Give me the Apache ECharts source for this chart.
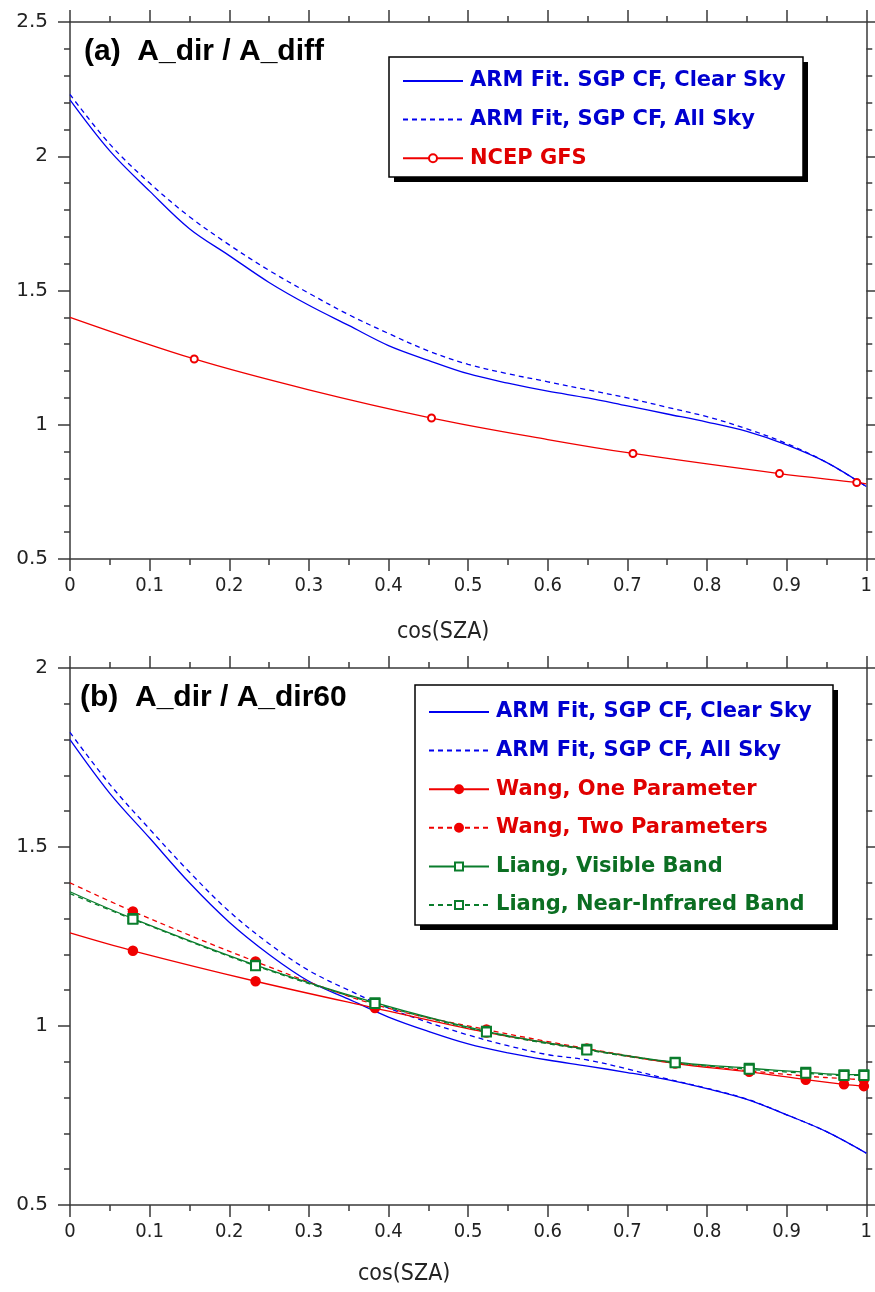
<!DOCTYPE html>
<html><head><meta charset="utf-8">
<script src="https://cdn.jsdelivr.net/npm/echarts@6/dist/echarts.min.js"></script>
<style>html,body{margin:0;padding:0;background:#fff}#c{width:875px;height:1292px}</style>
</head><body><div id="c"></div>
<script>
// ---------- data ----------
const armX = [0,0.05,0.1,0.15,0.2,0.25,0.3,0.35,0.4,0.45,0.5,0.55,0.6,0.65,0.7,0.75,0.8,0.85,0.9,0.95,1];
// panel (a)  A_dir / A_diff
const armClearA = [2.21,2.02,1.87,1.73,1.63,1.53,1.445,1.37,1.295,1.24,1.19,1.155,1.125,1.10,1.07,1.04,1.01,0.975,0.925,0.86,0.77];
const armAllA   = [2.23,2.045,1.90,1.775,1.67,1.575,1.49,1.41,1.34,1.275,1.225,1.19,1.16,1.13,1.10,1.065,1.03,0.985,0.93,0.86,0.77];
const ncepX = [0,0.156,0.3,0.454,0.6,0.707,0.891,0.988,1];
const ncepY = [1.40,1.245,1.13,1.025,0.945,0.893,0.818,0.785,0.78];
const ncepMarkerX = [0.156,0.454,0.707,0.891,0.988];
// panel (b)  A_dir / A_dir60
const armClearB = [1.80,1.65,1.525,1.40,1.29,1.20,1.125,1.075,1.025,0.985,0.95,0.925,0.905,0.888,0.87,0.85,0.825,0.795,0.752,0.705,0.645];
const armAllB   = [1.82,1.675,1.55,1.43,1.32,1.23,1.155,1.10,1.05,1.01,0.975,0.945,0.92,0.905,0.88,0.852,0.826,0.796,0.752,0.705,0.645];
const szaX = [0,0.079,0.233,0.383,0.523,0.649,0.760,0.853,0.924,0.972,0.997];
const szaMarkerX = [0.079,0.233,0.383,0.523,0.649,0.760,0.853,0.924,0.972,0.997];
const wangOne  = [1.26,1.21,1.125,1.05,0.982,0.935,0.895,0.872,0.850,0.837,0.832];
const wangTwo  = [1.40,1.32,1.18,1.06,0.99,0.937,0.897,0.875,0.860,0.853,0.850];
const liangVis = [1.375,1.30,1.17,1.065,0.985,0.935,0.899,0.882,0.871,0.864,0.864];
const liangNir = [1.37,1.298,1.168,1.063,0.983,0.933,0.897,0.879,0.868,0.862,0.862];
const xTickLabels = ['0','0.1','0.2','0.3','0.4','0.5','0.6','0.7','0.8','0.9','1'];

const namesA = ['ARM Fit. SGP CF, Clear Sky','ARM Fit, SGP CF, All Sky','NCEP GFS'];
const namesB = ['ARM Fit, SGP CF, Clear Sky','ARM Fit, SGP CF, All Sky','Wang, One Parameter','Wang, Two Parameters','Liang, Visible Band','Liang, Near-Infrared Band'];

// ---------- styling ----------
const BLUE='#0000f0', RED='#f00000', GREEN='#0a7d2c';
const BLUE_T='#0000d0', RED_T='#e00000', GREEN_T='#0b6e22';
const AX='#3a3a3a';
const narrow = "'Liberation Sans Narrow','DejaVu Sans Condensed','Liberation Sans',sans-serif";

function zip(xs, ys, marks){
  return xs.map((x,i)=>{
    const it = {value:[x, ys[i]]};
    if (marks && marks.indexOf(x) < 0) it.symbol = 'none';
    return it;
  });
}
function xAxisDef(grid, pos, labels, nameOffset, gap){
  const a = {
    type:'value', gridIndex:grid, position:pos, min:0, max:1, interval:0.1,
    axisLine:{show:true,onZero:false,lineStyle:{color:AX,width:1.5}},
    axisTick:{show:true,inside:false,length:12,lineStyle:{color:AX,width:1.5}},
    minorTick:{show:true,splitNumber:2,length:6,lineStyle:{color:AX,width:1.5}},
    splitLine:{show:false},
    axisLabel:{show:labels,margin:17,fontSize:20,fontFamily:narrow,color:'#222',
      formatter:(v)=>xTickLabels[Math.round(v*10)]}
  };
  if (labels){
    a.name='cos(SZA)'; a.nameLocation='middle'; a.nameGap=gap;
    a.nameTextStyle={fontSize:23,fontFamily:narrow,color:'#222',padding:[0,nameOffset,0,0]};
  }
  return a;
}
function yAxisDef(grid, pos, labels, max){
  return {
    type:'value', gridIndex:grid, position:pos, min:0.5, max:max, interval:0.5,
    axisLine:{show:true,onZero:false,lineStyle:{color:AX,width:1.5}},
    axisTick:{show:true,inside:false,length:12,lineStyle:{color:AX,width:1.5}},
    minorTick:{show:true,splitNumber:5,length:6,lineStyle:{color:AX,width:1.5}},
    splitLine:{show:false},
    axisLabel:{show:labels,margin:22,fontSize:20,fontFamily:"'DejaVu Sans',sans-serif",color:'#222'}
  };
}
function lineSeries(name, xi, yi, data, color, dashed, symbol, size){
  return {
    name, type:'line', xAxisIndex:xi, yAxisIndex:yi, data, smooth:0.35,
    symbol: symbol || 'none', symbolSize: size || 8, showSymbol: !!symbol,
    lineStyle:{color, width:1.3, type: dashed ? [5,4] : 'solid'},
    itemStyle:{color, borderColor:color, borderWidth:1.5},
    emphasis:{disabled:true}, animation:false, z: 3
  };
}
function legendDef(names, colors, noSym, left, top, pad){
  return {
    orient:'vertical', left, top, padding:pad, itemGap:14.6, itemWidth:60, itemHeight:10,
    selectedMode:false, backgroundColor:'transparent', borderWidth:0, z:6,
    textStyle:{fontFamily:"'DejaVu Sans',sans-serif",fontWeight:'bold',fontSize:21,lineHeight:24,padding:[0,0,0,2]},
    data: names.map((n,i)=>{
      const d = {name:n, textStyle:{color:colors[i]}};
      if (noSym[i]) d.itemStyle = {opacity:0};
      return d;
    })
  };
}
function boxGraphics(x, y, w, h){
  return [
    {type:'rect', z:4, shape:{x:x+5, y:y+5, width:w, height:h}, style:{fill:'#000'}},
    {type:'rect', z:5, shape:{x:x, y:y, width:w, height:h}, style:{fill:'#fff', stroke:'#000', lineWidth:1.5}}
  ];
}

const option = {
  backgroundColor:'#fff',
  animation:false,
  grid:[{left:70,top:22,width:801,height:537},{left:70,top:668,width:801,height:537}],
  xAxis:[xAxisDef(0,'bottom',true,50,62), xAxisDef(0,'top',false), xAxisDef(1,'bottom',true,128,58), xAxisDef(1,'top',false)],
  yAxis:[yAxisDef(0,'left',true,2.5), yAxisDef(0,'right',false,2.5), yAxisDef(1,'left',true,2), yAxisDef(1,'right',false,2)],
  legend:[
    legendDef(namesA,[BLUE_T,BLUE_T,RED_T],[true,true,false],389,57,[12,10,8,13]),
    legendDef(namesB,[BLUE_T,BLUE_T,RED_T,RED_T,GREEN_T,GREEN_T],[true,true,false,false,false,false],415,685,[15,14,8,13])
  ],
  graphic:[].concat(
    boxGraphics(389,57,414,120),
    boxGraphics(415,685,418,240),
    [
      {type:'text',z:6,left:84,top:37,style:{text:'(a)  A_dir / A_diff',font:"bold 30px 'Liberation Sans',Arial,sans-serif",fill:'#000'}},
      {type:'text',z:6,left:80,top:683,style:{text:'(b)  A_dir / A_dir60',font:"bold 30px 'Liberation Sans',Arial,sans-serif",fill:'#000'}}
    ]
  ),
  series:[
    lineSeries(namesA[0],0,0,zip(armX,armClearA),BLUE,false),
    lineSeries(namesA[1],0,0,zip(armX,armAllA),BLUE,true),
    lineSeries(namesA[2],0,0,zip(ncepX,ncepY,ncepMarkerX),RED,false,'emptyCircle',7),
    lineSeries(namesB[0],2,2,zip(armX,armClearB),BLUE,false),
    lineSeries(namesB[1],2,2,zip(armX,armAllB),BLUE,true),
    lineSeries(namesB[2],2,2,zip(szaX,wangOne,szaMarkerX),RED,false,'circle',9),
    lineSeries(namesB[3],2,2,zip(szaX,wangTwo,szaMarkerX),RED,true,'circle',9),
    lineSeries(namesB[4],2,2,zip(szaX,liangVis,szaMarkerX),GREEN,false,'emptyRect',9),
    lineSeries(namesB[5],2,2,zip(szaX,liangNir,szaMarkerX),GREEN,true,'emptyRect',9)
  ]
};
const chart = echarts.init(document.getElementById('c'), null, {renderer:'canvas'});
chart.setOption(option);
</script></body></html>
